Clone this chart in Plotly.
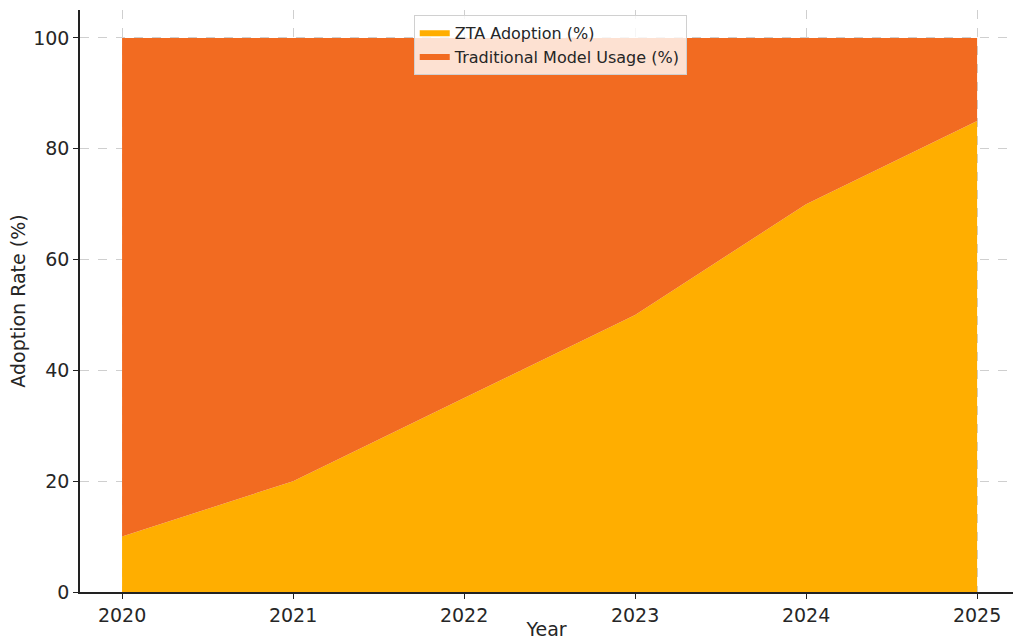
import plotly.graph_objects as go

years = [2020, 2021, 2022, 2023, 2024, 2025]
zta_adoption = [10, 20, 35, 50, 70, 85]
traditional_usage = [90, 80, 65, 50, 30, 15]
y_ticks = [0, 20, 40, 60, 80, 100]

ZTA_COLOR = "#FFAE00"
TRAD_COLOR = "#F26B21"
FONT = "DejaVu Sans"
TEXT = "#262626"

fig = go.Figure()
fig.add_trace(go.Scatter(
    x=years, y=zta_adoption, name="ZTA Adoption (%)",
    stackgroup="one", mode="none", fillcolor=ZTA_COLOR,
))
fig.add_trace(go.Scatter(
    x=years, y=traditional_usage, name="Traditional Model Usage (%)",
    stackgroup="one", mode="none", fillcolor=TRAD_COLOR,
))

axis_common = dict(
    showgrid=True, gridcolor="#cfcfcf", griddash="dash", gridwidth=1,
    showline=True, linecolor="#222222", linewidth=1.5,
    ticks="outside", ticklen=5, tickwidth=1.2, tickcolor="#222222",
    zeroline=False, automargin=False,
    tickfont=dict(family=FONT, size=19, color=TEXT),
    title_font=dict(family=FONT, size=19, color=TEXT),
)

fig.update_xaxes(
    range=[2019.754, 2025.21], tickvals=years, ticktext=[str(y) for y in years],
    title_text="Year", title_standoff=4, **axis_common,
)
fig.update_yaxes(
    range=[0, 105.05], tickvals=y_ticks,
    title_text="Adoption Rate (%)", title_standoff=3, **axis_common,
)

fig.update_layout(
    width=1013, height=640,
    margin=dict(l=80, r=0, t=10, b=48),
    plot_bgcolor="white", paper_bgcolor="white",
    showlegend=True,
    legend=dict(
        x=0.504, y=0.991, xanchor="center", yanchor="top",
        bgcolor="rgba(255,255,255,0.8)", bordercolor="#d0d0d0", borderwidth=1,
        font=dict(family=FONT, size=16, color=TEXT),
        traceorder="normal", tracegroupgap=0, itemwidth=30,
    ),
)

fig.write_html("out.html")
